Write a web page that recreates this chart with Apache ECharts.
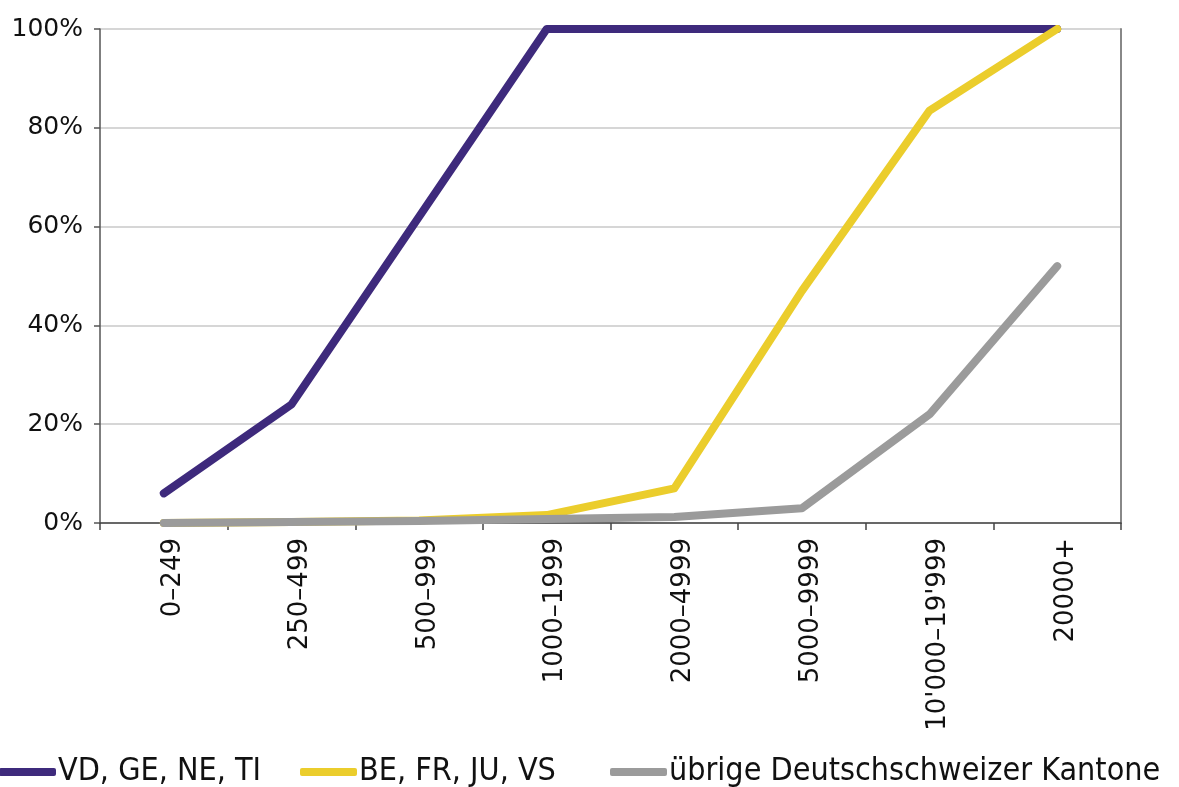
<!DOCTYPE html>
<html>
<head>
<meta charset="utf-8">
<script src="https://cdn.jsdelivr.net/npm/echarts@6/dist/echarts.min.js"></script>
<style>html,body{margin:0;padding:0;background:#fff}#c{width:1179px;height:787px}</style>
</head>
<body>
<div id="c"></div>
<script>
const categories = ["0–249","250–499","500–999","1000–1999","2000–4999","5000–9999","10'000–19'999","20000+"];
const seriesNames = ["VD, GE, NE, TI","BE, FR, JU, VS","übrige Deutschschweizer Kantone"];
const romand = [6, 24, 62, 100, 100, 100, 100, 100];
const mixed = [0, 0.2, 0.5, 1.6, 7, 47, 83.5, 100];
const deutsch = [0, 0.2, 0.4, 0.8, 1.2, 3, 22, 52];
const yTicks = [0, 20, 40, 60, 80, 100];

const colors = ["#3e2a7c", "#ebcd2c", "#9b9b9b"];
const chart = echarts.init(document.getElementById('c'));
const axisFont = 'DejaVu Sans';
function mk(name, data, color, z) {
  return {
    name: name, type: 'line', data: data, symbol: 'none', z: z,
    lineStyle: {width: 8, color: color, cap: 'round', join: 'round'},
    itemStyle: {color: color}
  };
}
const legendLefts = [-6, 295, 605];
const legends = seriesNames.map((n, i) => ({
  left: legendLefts[i], bottom: -6, itemWidth: 57, itemHeight: 8, icon: 'roundRect',
  textStyle: {fontFamily: "'DejaVu Sans Condensed', 'Liberation Sans', sans-serif", fontSize: 32, color: '#111', padding: [0,0,0,-3]},
  data: [n]
}));
chart.setOption({
  animation: false,
  backgroundColor: '#fff',
  grid: {left: 100, right: 58, top: 29, bottom: 264, containLabel: false},
  legend: legends,
  xAxis: {
    type: 'category', data: categories, boundaryGap: true,
    axisLine: {lineStyle: {color: '#444', width: 1.5}},
    axisTick: {show: true, length: 7, lineStyle: {color: '#444', width: 1.5}},
    axisLabel: {rotate: 90, fontFamily: axisFont, fontSize: 26, color: '#111', margin: 15, interval: 0,
      verticalAlign: 'top', lineHeight: 18}
  },
  yAxis: [{
    type: 'value', min: 0, max: 100, interval: 20,
    axisLine: {show: true, lineStyle: {color: '#555', width: 1.5}},
    axisTick: {show: true, length: 6, lineStyle: {color: '#555', width: 1.5}},
    splitLine: {lineStyle: {color: '#c8c8c8', width: 1.5}},
    axisLabel: {fontFamily: axisFont, fontSize: 25, color: '#111', margin: 17,
      formatter: v => yTicks.includes(v) ? v + '%' : ''}
  }, {
    type: 'value', min: 0, max: 100, interval: 20, position: 'right',
    axisLine: {show: true, lineStyle: {color: '#888', width: 2}},
    axisTick: {show: false}, axisLabel: {show: false}, splitLine: {show: false}
  }],
  series: [mk(seriesNames[0], romand, colors[0], 3), mk(seriesNames[1], mixed, colors[1], 4), mk(seriesNames[2], deutsch, colors[2], 5)]
});
</script>
</body>
</html>
